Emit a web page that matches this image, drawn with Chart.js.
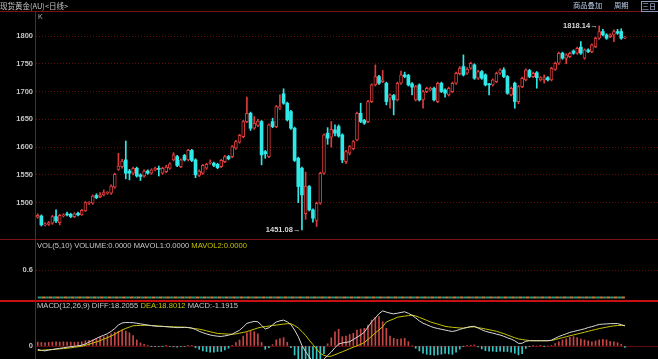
<!DOCTYPE html>
<html><head><meta charset="utf-8">
<script src="https://cdn.jsdelivr.net/npm/chart.js@4.4.1/dist/chart.umd.min.js"></script>
<style>
html,body{margin:0;padding:0;background:#000;overflow:hidden}
#wrap{position:relative;width:658px;height:359px;background:#000;overflow:hidden;font-family:'Liberation Sans',Arial,sans-serif}
canvas{position:absolute;left:0}
.ln{position:absolute}
.txt{position:absolute;white-space:nowrap;font-size:7.6px;line-height:10px;color:#c8c8c8}
.cjk{font-family:'Noto Sans CJK SC',sans-serif}
</style></head><body>
<div id="wrap">
  <canvas id="kc" width="658" height="229" style="top:11px;width:658px;height:229px"></canvas>
  <canvas id="vc" width="658" height="59" style="top:240px;width:658px;height:59px"></canvas>
  <canvas id="mc" width="658" height="58" style="top:301px;width:658px;height:58px"></canvas>

  <div class="ln" style="left:0;top:11px;width:658px;height:1px;background:#7c1212"></div>
  <div class="ln" style="left:0;top:239px;width:658px;height:1px;background:#7c1212"></div>
  <div class="ln" style="left:0;top:300px;width:658px;height:1.5px;background:#c81010"></div>
  <div class="ln" style="left:35px;top:11px;width:1px;height:348px;background:#8c1414"></div>

  <div class="txt cjk" style="left:0;top:0;font-size:7.5px;line-height:11px;color:#c4c4c4">现货黄金(AU)&lt;日线&gt;</div>
  <div class="txt cjk" style="left:573px;top:0;font-size:7.3px;line-height:11px;color:#b8c8e4">商品叠加</div>
  <div class="txt cjk" style="left:614px;top:0;font-size:7.3px;line-height:11px;color:#b8c8e4">周期</div>
  <div class="txt cjk" style="left:641px;top:1px;width:16px;height:9px;border:1px solid #8898b8;font-size:7px;line-height:9px;color:#b8c8e4;overflow:hidden">三日</div>
  <div class="txt" style="left:38px;top:12px;font-size:7px;color:#b4b4b4">K</div>

  <div class="txt" style="left:37px;top:241px">VOL(5,10) VOLUME:0.0000 MAVOL1:0.0000 <span style="color:#c8c400">MAVOL2:0.0000</span></div>
  <div class="txt" style="left:37px;top:301px">MACD(12,26,9) DIFF:18.2055 <span style="color:#c8c400">DEA:18.8012</span> MACD:-1.1915</div>
</div>
<script>
// ---------- data ----------
const opens = [1474,1476,1460,1461,1463,1475,1464,1476,1479,1479,1475,1481,1478,1485,1499,1499,1513,1511,1514,1517,
1517,1528,1560,1565,1577,1557,1553,1562,1550,1548,1557,1553,1559,1561,1553,1556,1562,1577,1583,1565,
1585,1577,1594,1577,1549,1553,1562,1571,1571,1569,1565,1574,1583,1583,1598,1609,1619,1646,1661,1634,
1639,1646,1592,1583,1646,1637,1670,1696,1679,1664,1634,1580,1562,1480,1529,1487,1468,1499,1553,1625,
1618,1631,1637,1622,1574,1589,1597,1613,1661,1648,1646,1682,1712,1727,1718,1715,1688,1693,1685,1715,
1730,1729,1714,1685,1712,1685,1700,1703,1706,1682,1715,1703,1694,1700,1715,1732,1745,1733,1742,1748,
1724,1736,1730,1713,1712,1718,1733,1739,1727,1694,1715,1682,1709,1721,1738,1727,1734,1721,1721,1725,
1721,1740,1751,1769,1760,1763,1773,1769,1780,1760,1775,1772,1781,1796,1808,1802,1799,1802,1808,1808,1796];
const highs = [1480,1478,1464,1466,1477,1487,1479,1480,1483,1481,1482,1483,1488,1502,1502,1514,1516,1518,1523,1520,
1532,1553,1589,1578,1611,1560,1564,1564,1552,1559,1559,1561,1564,1566,1564,1567,1572,1590,1585,1579,
1587,1596,1596,1579,1559,1569,1571,1577,1573,1571,1578,1585,1585,1603,1612,1623,1648,1690,1663,1655,
1650,1648,1594,1642,1652,1675,1694,1705,1681,1666,1636,1582,1564,1555,1531,1489,1501,1555,1624,1635,
1646,1640,1640,1624,1594,1603,1612,1663,1679,1650,1684,1714,1748,1729,1738,1717,1696,1695,1717,1737,
1735,1731,1716,1711,1714,1702,1708,1708,1708,1717,1717,1705,1708,1717,1735,1745,1766,1743,1753,1750,
1738,1738,1732,1715,1723,1735,1741,1743,1729,1708,1717,1711,1726,1741,1740,1735,1736,1727,1730,1727,
1744,1753,1771,1771,1768,1771,1775,1780,1790,1777,1777,1786,1798,1818.14,1812,1804,1804,1811,1812,1813,1799];
const lows = [1472,1458,1458,1459,1461,1464,1460,1474,1476,1473,1473,1476,1477,1484,1497,1497,1507,1509,1512,1515,
1515,1526,1558,1562,1543,1541,1550,1546,1540,1546,1551,1551,1557,1548,1551,1554,1560,1575,1565,1563,
1575,1575,1574,1545,1547,1551,1560,1569,1565,1561,1563,1572,1577,1581,1596,1607,1617,1644,1630,1632,
1637,1568,1580,1581,1635,1635,1668,1677,1647,1632,1574,1500,1451.08,1470,1485,1465,1457,1497,1551,1605,
1600,1620,1618,1572,1570,1586,1595,1611,1644,1641,1644,1680,1710,1713,1716,1676,1670,1658,1683,1713,
1725,1710,1694,1683,1683,1670,1698,1701,1683,1680,1698,1690,1692,1698,1713,1730,1728,1731,1740,1722,
1722,1722,1710,1694,1710,1716,1731,1725,1695,1692,1670,1678,1707,1719,1725,1725,1706,1719,1715,1719,
1719,1738,1749,1758,1750,1761,1767,1767,1767,1758,1770,1770,1779,1794,1800,1794,1797,1790,1803,1794,1795];
const closes = [1477,1460,1462,1464,1475,1467,1477,1478,1478,1475,1480,1478,1486,1500,1500,1512,1509,1514,1518,1517.5,
1530,1551,1566,1575,1553,1553,1562,1548,1547,1557,1553,1559,1562,1560,1562,1564,1570,1586,1567,1577,
1577,1594,1576,1550,1557,1567,1569,1571.5,1567,1563,1576,1583,1579,1601,1610,1621,1646,1661,1634,1643,
1647,1586,1588,1640,1637,1673,1673,1679,1649,1634,1576,1529,1514,1530,1487,1472,1499,1553,1622,1616,
1632,1625,1620,1577,1592,1601,1610,1661,1646,1643,1682,1712,1727,1715,1721,1682,1694,1685,1715,1730,
1727,1712,1708,1709,1685,1700,1706,1706,1685,1715,1700,1697,1706,1715,1733,1742,1730,1740,1751,1724,
1736,1724,1712,1712,1721,1733,1739,1727,1697,1706,1682,1709,1724,1739,1727,1733,1725,1725,1725,1721,
1742,1751,1769,1760,1766,1769,1769,1778,1769,1775,1772,1784,1796,1808,1802,1796,1802,1808,1805,1796,1798];
const volume = [0,0,0,0,0,0,0,0,0,0,0,0,0,0,0,0,0,0,0,0,
0,0,0,0,0,0,0,0,0,0,0,0,0,0,0,0,0,0,0,0,
0,0,0,0,0,0,0,0,0,0,0,0,0,0,0,0,0,0,0,0,
0,0,0,0,0,0,0,0,0,0,0,0,0,0,0,0,0,0,0,0,
0,0,0,0,0,0,0,0,0,0,0,0,0,0,0,0,0,0,0,0,
0,0,0,0,0,0,0,0,0,0,0,0,0,0,0,0,0,0,0,0,
0,0,0,0,0,0,0,0,0,0,0,0,0,0,0,0,0,0,0,0,
0,0,0,0,0,0,0,0,0,0,0,0,0,0,0,0,0,0,0,0,0];
const diff = [-3.0,-4.0,-4.4,-3.7,-3.2,-2.6,-2.1,-1.6,-1.1,-0.6,
-0.2,0.2,0.7,1.9,3.6,5.2,6.9,8.5,9.8,11.2,
13.3,15.9,19.1,20.9,21.4,21.3,21.2,20.7,20.1,19.6,
19.0,18.5,18.1,17.9,17.8,17.6,17.3,17.0,16.7,16.8,
16.9,16.9,16.3,15.0,13.4,12.1,11.0,10.0,9.4,8.9,
8.7,9.2,9.8,10.9,12.6,14.3,17.3,20.6,21.5,22.4,
22.0,18.8,15.5,16.6,19.2,21.8,22.9,23.5,22.0,19.5,
14.5,8.5,0.5,-5.0,-10,-14,-16,-15,-12,-8.5,
-5.5,-1.5,1.8,2.8,3.3,3.9,5.9,8.0,10.0,12.6,
17.3,22.0,25.5,29.4,31.9,30.8,29.9,29.2,29.8,30.5,
31.1,29.7,27.9,25.5,22.8,20.7,19.4,17.9,16.7,15.9,
15.2,14.5,13.8,13.2,13.9,15.0,16.1,16.9,17.7,17.9,
16.3,14.8,13.4,12.5,11.7,10.8,10.0,8.8,7.5,6.3,
4.7,2.4,2.5,4.3,4.8,4.8,4.8,4.8,4.8,4.8,
5.3,7.0,8.6,9.9,11.1,12.4,13.2,14.0,14.8,15.6,
16.8,17.6,18.6,19.6,19.9,20.1,20.3,20.4,20.4,19.4,18.2055];
const dea = [-4.2,-3.9,-3.6,-3.4,-3.1,-2.9,-2.6,-2.3,-2.0,-1.6,
-1.1,-0.7,-0.2,0.6,1.6,2.7,3.7,4.8,6.3,7.6,
9.0,10.7,12.7,14.6,16.0,17.2,18.4,18.6,18.7,18.8,
18.8,18.6,18.4,18.1,17.9,17.6,17.5,17.4,17.3,17.2,
17.1,16.7,16.1,15.8,15.3,14.6,13.8,13.0,12.2,11.4,
11.2,11.0,10.8,10.6,11.0,11.7,12.3,13.1,14.2,15.3,
16.4,17.2,17.6,18.1,18.6,19.0,19.5,19.9,20.3,20.2,
18.6,16.4,13.2,9.6,5.3,1.3,-2.8,-6.7,-8.5,-9.5,
-9.2,-7.9,-6.6,-5.2,-3.9,-2.4,-1.1,0.2,1.5,3.2,
6.0,8.9,11.9,14.6,17.6,21.8,23.3,24.6,26.2,26.7,
27.2,27.6,28.1,27.3,26.0,24.7,23.3,21.9,20.9,19.9,
18.9,17.9,17.4,17.0,16.7,16.4,16.2,16.8,17.3,17.4,
16.7,16.1,15.5,14.8,14.1,13.4,12.3,11.3,10.0,8.7,
7.5,6.4,5.9,5.4,5.0,4.8,4.8,4.8,4.8,4.8,
5.0,5.9,6.7,7.6,8.4,9.3,10.1,10.9,11.7,12.5,
13.4,14.2,15.0,15.8,16.5,17.1,17.8,18.3,18.6,18.7,18.8012];
const macd = [3.5,3.2,3.0,3.3,3.6,3.8,3.6,3.8,3.5,3.6,3.4,3.6,3.8,
4.8,5.2,5.6,6.8,8.0,8.5,9.5,11.0,12.5,13.5,14.5,13.5,12.0,9.5,5.5,2.8,1.6,
0.4,-0.2,-0.6,-0.4,-0.2,0.2,-0.4,-0.8,-1.0,-0.6,-0.4,0.4,0.4,
-1.6,-3.0,-4.5,-5.0,-5.6,-5.6,-5.0,-5.0,-3.6,-2.0,0.6,
3.2,5.5,9.0,12.0,13.5,13.0,11.0,3.2,
-3.0,-1.5,1.2,5.6,6.8,7.6,3.4,-1.4,
-8.2,-15.8,-25,-29,-30,-30,-26,-16.6,-7,2.0,
7.4,12.8,15.2,8.5,9.1,10.5,11.5,14.5,15.5,16.1,19.1,23.6,26.0,26.7,22.1,16.1,9.0,7.0,6.1,6.5,7.0,3.9,
0.5,-2.0,-4.5,-6.5,-7.5,-8.0,-8.4,-8.0,-7.4,-6.8,-7.2,-7.6,-5.6,-2.8,
-0.2,0.2,0.8,1.0,
-0.8,-2.6,-4.2,-4.6,-4.8,-5.2,-4.6,-5.0,-5.0,-5.6,-6.6,-8.0,-7.0,-2.2,-0.6,0.1,0.0,0.1,-0.1,0.0,0.6,
2.2,3.8,5.5,6.5,7.8,8.5,7.6,6.4,5.5,4.6,3.9,4.6,5.5,6.1,5.6,4.2,3.8,3.0,1.5,-1.1915];
const priceTicks = [1500,1550,1600,1650,1700,1750,1800];
const volTicks = [0.6];
const macdTicks = [0];
const marks = [{i:153, v:highs[153]}, {i:72, v:lows[72]}];

// ---------- drawing ----------
const RED = '#dc3c3c', CYAN = '#30e8e8', GRID = '#5e0c0c';
const idx = closes.map((_, i) => i);
const up = i => closes[i] >= opens[i];
const XMIN = -0.463, XMAX = 169.02;
const xScale = {type:'linear', display:false, offset:false, bounds:'ticks', min:XMIN, max:XMAX, grid:{offset:false}};
const tickFont = {family:'Liberation Sans', size:7.5, weight:'bold'};
function yAxis(min, max, ticks, dash){
  return {position:'left', min, max,
    afterBuildTicks: s => { s.ticks = ticks.map(v => ({value:v})); },
    afterFit: s => { s.width = 36; s.paddingTop = 0; s.paddingBottom = 0; },
    grid:{color:GRID, drawTicks:false, lineWidth:1},
    border:{display:false, dash:dash},
    ticks:{color:'#c4c4c4', font:tickFont, padding:3, callback: v => String(v)}};
}
const base = {animation:false, responsive:false, events:[],
  layout:{padding:0, autoPadding:false},
  plugins:{legend:{display:false}, tooltip:{enabled:false}}};

const markPlugin = {id:'marks', afterDatasetsDraw(c){
  const {ctx, scales:{x, y}} = c;
  ctx.save();
  ctx.font = 'bold 7.5px "Liberation Sans"';
  ctx.fillStyle = '#d6d6d6'; ctx.textAlign = 'right'; ctx.textBaseline = 'middle';
  marks.forEach(m => ctx.fillText(m.v.toFixed(2) + '→', x.getPixelForValue(m.i) - 1.5, y.getPixelForValue(m.v)));
  ctx.restore();
}};

new Chart(document.getElementById('kc'), {
  data:{datasets:[
    {type:'bar', order:0, grouped:false, barThickness:3, minBarLength:1, borderSkipped:false,
     data: idx.map(i => ({x:i, y:[opens[i], closes[i]]})),
     backgroundColor: idx.map(i => up(i) ? '#000' : CYAN),
     borderColor: idx.map(i => up(i) ? RED : CYAN),
     borderWidth: idx.map(i => up(i) ? 1 : 0)},
    {type:'bar', order:1, grouped:false, barThickness:1, borderSkipped:false,
     data: idx.map(i => ({x:i, y:[lows[i], highs[i]]})),
     backgroundColor: idx.map(i => up(i) ? RED : CYAN)}
  ]},
  options:{...base, scales:{x:xScale, y:yAxis(1432.8, 1845, priceTicks, [1,2])}},
  plugins:[markPlugin]
});

new Chart(document.getElementById('vc'), {
  data:{datasets:[
    {type:'line', clip:false, data: idx.map(i => ({x:i, y:volume[i]})), borderWidth:2, pointRadius:0,
     borderColor:'#2a9a7c',
     segment:{borderColor: ctx => ctx.p0DataIndex % 2 ? '#c8783c' : '#2a9a7c'}}
  ]},
  options:{...base, scales:{x:xScale, y:yAxis(-0.0327, 1.2546, volTicks, [1,2])}}
});

new Chart(document.getElementById('mc'), {
  data:{datasets:[
    {type:'line', order:0, data: idx.map(i => ({x:i, y:diff[i]})), borderColor:'#d8d8d8', borderWidth:1, pointRadius:0},
    {type:'line', order:1, data: idx.map(i => ({x:i, y:dea[i]})), borderColor:'#c8c400', borderWidth:1, pointRadius:0},
    {type:'bar', order:2, grouped:false, barThickness:1, data: idx.map(i => ({x:i, y:macd[i]})),
     backgroundColor: idx.map(i => macd[i] >= 0 ? '#c84646' : '#36c8c8')}
  ]},
  options:{...base, scales:{x:xScale, y:yAxis(-11.8, 40.9, macdTicks, [])}}
});
</script>
</body></html>
